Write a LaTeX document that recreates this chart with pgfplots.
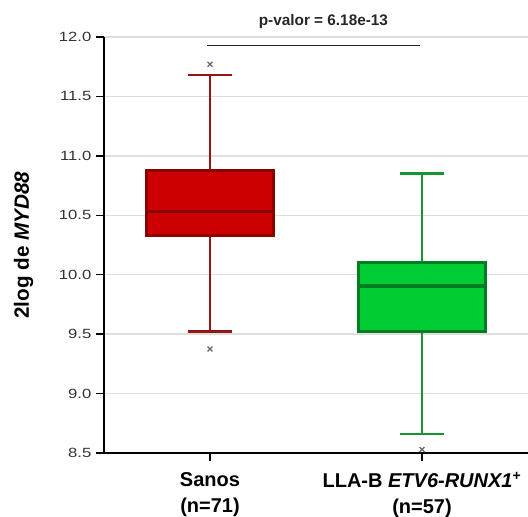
\documentclass[border=0pt]{standalone}
\usepackage{fontspec}
\setmainfont{Liberation Sans}
\newfontfamily\tickfont[FakeStretch=1.25]{Liberation Sans}
\usepackage{pgfplots}
\pgfplotsset{compat=1.18}
\usetikzlibrary{calc}
\definecolor{redfill}{RGB}{204,0,0}
\definecolor{redline}{RGB}{140,0,0}
\definecolor{redwhisk}{RGB}{150,20,20}
\definecolor{greenfill}{RGB}{0,204,51}
\definecolor{greenline}{RGB}{0,125,35}
\definecolor{greenwhisk}{RGB}{20,150,50}
\definecolor{gridgray}{RGB}{222,222,222}
\begin{document}
\begin{tikzpicture}
\begin{axis}[
  scale only axis, width=318pt, height=312pt,
  xmin=0.5, xmax=2.5, ymin=8.5, ymax=12,
  axis lines*=left,
  axis line style={-, black, line width=1.1pt},
  tick align=outside,
  major tick length=6pt,
  tick style={black, line width=1pt},
  xtick={1,2},
  xticklabels={{Sanos\\(n=71)},{LLA-B \textit{ETV6-RUNX1}\textsuperscript{+}\\(n=57)}},
  xticklabel style={align=center, font=\fontsize{15}{19.5}\selectfont\bfseries, text=black, yshift=-5pt},
  ytick={8.5,9,9.5,10,10.5,11,11.5,12},
  yticklabel style={font=\tickfont\fontsize{10}{12}\selectfont, text=black!80,
    /pgf/number format/.cd, fixed, fixed zerofill, precision=1, assume math mode=true},
  ymajorgrids,
  major grid style={draw=gridgray, line width=1.1pt},
  ylabel={2log de \textit{MYD88}},
  every axis y label/.style={at={(rel axis cs:0,0.5)}, anchor=center, xshift=-60.4pt, rotate=90,
    font=\fontsize{15.5}{18}\selectfont\bfseries},
  clip=false,
]
\coordinate (O) at (rel axis cs:0,0);
% --- Sanos (red) ---
\addplot[draw=redwhisk, line width=2pt, mark=none] coordinates {(1,10.875) (1,11.68)};
\addplot[draw=redwhisk, line width=2pt, mark=none] coordinates {(0.897,11.68) (1.103,11.68)};
\addplot[draw=redwhisk, line width=2pt, mark=none] coordinates {(1,10.33) (1,9.52)};
\addplot[draw=redwhisk, line width=2pt, mark=none] coordinates {(0.897,9.52) (1.103,9.52)};
\addplot[draw=redline, fill=redfill, line width=2pt, line join=miter, line cap=rect, mark=none]
  coordinates {(0.7,10.33) (1.3,10.33) (1.3,10.875) (0.7,10.875) (0.7,10.33)};
\addplot[draw=redline, line width=2.3pt, mark=none] coordinates {(0.7,10.535) (1.3,10.535)};
\addplot[only marks, mark=x, mark size=2.6pt, mark options={draw=black!60, line width=0.9pt}]
  coordinates {(1,11.77) (1,9.375)};
% --- LLA-B (green) ---
\addplot[draw=greenwhisk, line width=2pt, mark=none] coordinates {(2,10.105) (2,10.85)};
\addplot[draw=greenwhisk, line width=2pt, mark=none] coordinates {(1.897,10.85) (2.103,10.85)};
\addplot[draw=greenwhisk, line width=2pt, mark=none] coordinates {(2,9.52) (2,8.66)};
\addplot[draw=greenwhisk, line width=2pt, mark=none] coordinates {(1.897,8.66) (2.103,8.66)};
\addplot[draw=greenline, fill=greenfill, line width=2pt, line join=miter, line cap=rect, mark=none]
  coordinates {(1.7,9.52) (2.3,9.52) (2.3,10.105) (1.7,10.105) (1.7,9.52)};
\addplot[draw=greenline, line width=2.3pt, mark=none] coordinates {(1.7,9.905) (2.3,9.905)};
\addplot[only marks, mark=x, mark size=2.6pt, mark options={draw=black!60, line width=0.9pt}]
  coordinates {(2,8.53)};
% --- significance ---
\addplot[black!85, line width=1pt, mark=none] coordinates {(0.985,11.93) (1.99,11.93)};
\node[anchor=base, font=\fontsize{11.5}{13}\selectfont\bfseries, text=black!85] at (axis cs:1.535,12.1) {p-valor = 6.18e-13};
\end{axis}
\pgfresetboundingbox
\useasboundingbox ($(O)+(-78pt,-48pt)$) rectangle ($(O)+(318pt,339.75pt)$);
\end{tikzpicture}
\end{document}
